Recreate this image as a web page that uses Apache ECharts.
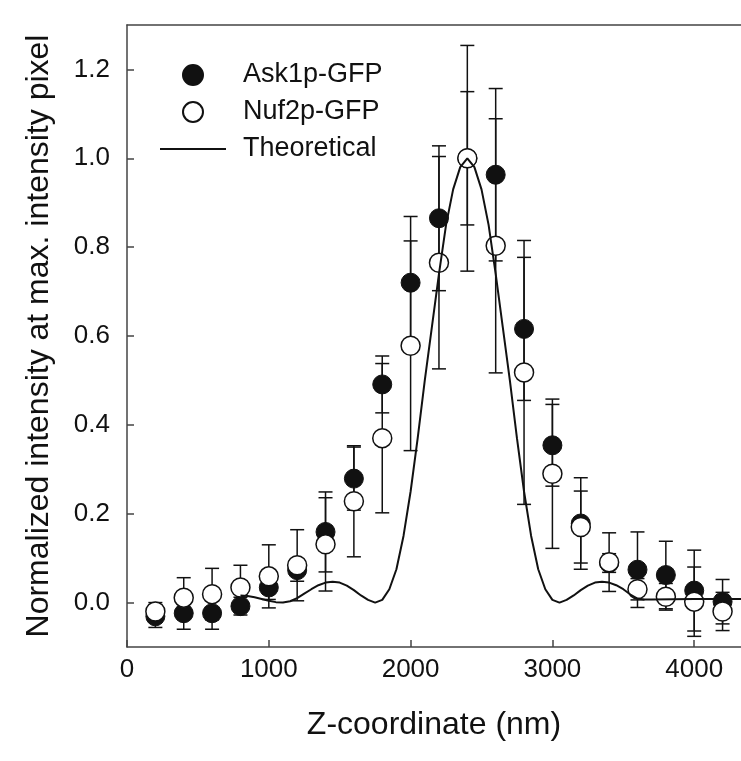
<!DOCTYPE html>
<html>
<head>
<meta charset="utf-8">
<script src="https://cdn.jsdelivr.net/npm/echarts@6/dist/echarts.min.js"></script>
<style>
  html, body { margin: 0; padding: 0; background: #fff; }
  #chart { width: 741px; height: 761px; }
</style>
</head>
<body>
<div id="chart"></div>
<script>
// z 坐标 (nm)
const zCoord = [200, 400, 600, 800, 1000, 1200, 1400, 1600, 1800, 2000, 2200, 2400, 2600, 2800, 3000, 3200, 3400, 3600, 3800, 4000, 4200]
// Ask1p-GFP 实心点
const ask1p = [-0.031, -0.024, -0.024, -0.008, 0.034, 0.073, 0.159, 0.279, 0.491, 0.72, 0.865, 1.0, 0.963, 0.616, 0.354, 0.178, 0.089, 0.074, 0.062, 0.027, 0.002]
const ask1pErr = [0.025, 0.036, 0.036, 0.02, 0.027, 0.025, 0.09, 0.071, 0.064, 0.149, 0.163, 0.15, 0.194, 0.161, 0.092, 0.103, 0.021, 0.085, 0.076, 0.091, 0.05]
// Nuf2p-GFP 空心点
const nuf2p = [-0.02, 0.011, 0.019, 0.034, 0.059, 0.084, 0.131, 0.228, 0.37, 0.578, 0.765, 1.0, 0.803, 0.518, 0.29, 0.17, 0.091, 0.03, 0.013, 0.002, -0.02]
const nuf2pErr = [0.02, 0.045, 0.058, 0.05, 0.071, 0.08, 0.105, 0.125, 0.168, 0.236, 0.239, 0.254, 0.286, 0.297, 0.168, 0.081, 0.066, 0.024, 0.03, 0.078, 0.043]
// 理论曲线
const theoryZ = [800, 850, 900, 950, 1000, 1050, 1100, 1150, 1200, 1250, 1300, 1350, 1400, 1450, 1500, 1550, 1600, 1650, 1700, 1750,
  1800, 1850, 1900, 1950, 2000, 2050, 2100, 2150, 2200, 2250, 2300, 2350, 2400, 2450, 2500, 2550, 2600, 2650, 2700, 2750,
  2800, 2850, 2900, 2950, 3000, 3050, 3100, 3150, 3200, 3250, 3300, 3350, 3400, 3450, 3500, 3550, 3600, 3650, 3700, 4000, 4330]
const theoryVal = [0.016, 0.015, 0.012, 0.008, 0.004, 0.001, 0.0, 0.003, 0.01, 0.02, 0.03, 0.039, 0.045, 0.047, 0.045, 0.038, 0.028, 0.016, 0.006, 0.0,
  0.006, 0.03, 0.075, 0.15, 0.25, 0.37, 0.5, 0.62, 0.74, 0.85, 0.93, 0.98, 1.0, 0.98, 0.93, 0.85, 0.74, 0.62, 0.5, 0.37,
  0.25, 0.15, 0.075, 0.03, 0.006, 0.0, 0.006, 0.016, 0.028, 0.038, 0.045, 0.047, 0.045, 0.039, 0.03, 0.018, 0.009, 0.007, 0.007, 0.008, 0.008]
// 刻度
const xTicks = [0, 1000, 2000, 3000, 4000]
const yTicks = [0, 0.2, 0.4, 0.6, 0.8, 1.0, 1.2]

const font = 'Liberation Sans, Arial, sans-serif'
const ink = '#111'
const axisColor = '#444'

const errData = (vals, errs) => zCoord.map((z, i) => [z, vals[i] - errs[i], vals[i] + errs[i]])

// 误差棒
const renderErr = (params, api) => {
  const x = api.value(0)
  const lo = api.coord([x, api.value(1)])
  const hi = api.coord([x, api.value(2)])
  const w = 7
  const style = { stroke: ink, lineWidth: 1.5 }
  return {
    type: 'group',
    children: [
      { type: 'line', shape: { x1: lo[0], y1: lo[1], x2: hi[0], y2: hi[1] }, style },
      { type: 'line', shape: { x1: lo[0] - w, y1: lo[1], x2: lo[0] + w, y2: lo[1] }, style },
      { type: 'line', shape: { x1: hi[0] - w, y1: hi[1], x2: hi[0] + w, y2: hi[1] }, style }
    ]
  }
}

const chart = echarts.init(document.getElementById('chart'))
const options = {
  animation: false,
  grid: { left: 127, right: 0, top: 25, bottom: 114 },
  legend: {
    data: [
      { name: 'Ask1p-GFP' },
      { name: 'Nuf2p-GFP' },
      { name: 'Theoretical', icon: 'path://M0,0L66,0L66,2L0,2Z' }
    ],
    orient: 'vertical',
    left: 155,
    top: 55,
    itemWidth: 66,
    itemHeight: 20,
    itemGap: 7,
    textStyle: { fontFamily: font, fontSize: 27, color: ink, lineHeight: 30, padding: [0, 0, 0, 12] }
  },
  xAxis: [
    {
      type: 'value',
      min: 0,
      max: 4330,
      name: 'Z-coordinate (nm)',
      nameLocation: 'middle',
      nameGap: 62,
      nameTextStyle: { fontFamily: font, fontSize: 32, color: ink },
      axisLine: { onZero: false, lineStyle: { color: axisColor, width: 1.5 } },
      axisTick: { inside: true, length: 7, customValues: xTicks, lineStyle: { color: axisColor, width: 1.5 } },
      axisLabel: { customValues: xTicks, fontFamily: font, fontSize: 26, color: ink, margin: 10, formatter: (v) => String(v) },
      splitLine: { show: false }
    },
    {
      // 顶部边框
      type: 'value',
      position: 'top',
      min: 0,
      max: 4330,
      axisLine: { show: true, onZero: false, lineStyle: { color: axisColor, width: 1.5 } },
      axisTick: { show: false },
      axisLabel: { show: false },
      splitLine: { show: false }
    }
  ],
  yAxis: {
    type: 'value',
    min: -0.1,
    max: 1.3,
    name: 'Normalized intensity at max. intensity pixel',
    nameLocation: 'middle',
    nameGap: 72,
    nameTextStyle: { fontFamily: font, fontSize: 32, color: ink },
    axisLine: { show: true, onZero: false, lineStyle: { color: axisColor, width: 1.5 } },
    axisTick: { show: true, inside: true, length: 7, customValues: yTicks, lineStyle: { color: axisColor, width: 1.5 } },
    axisLabel: {
      customValues: yTicks,
      fontFamily: font,
      fontSize: 26,
      color: ink,
      margin: 17,
      formatter: (v) => v.toFixed(1)
    },
    splitLine: { show: false }
  },
  series: [
    {
      type: 'custom',
      name: 'errAsk',
      renderItem: renderErr,
      encode: { x: 0, y: [1, 2] },
      data: errData(ask1p, ask1pErr),
      z: 1
    },
    {
      type: 'custom',
      name: 'errNuf',
      renderItem: renderErr,
      encode: { x: 0, y: [1, 2] },
      data: errData(nuf2p, nuf2pErr),
      z: 1
    },
    {
      type: 'scatter',
      name: 'Ask1p-GFP',
      symbol: 'circle',
      symbolSize: 19,
      itemStyle: { color: ink, borderColor: ink, borderWidth: 1, opacity: 1 },
      data: zCoord.map((z, i) => [z, ask1p[i]]),
      z: 2
    },
    {
      type: 'scatter',
      name: 'Nuf2p-GFP',
      symbol: 'circle',
      symbolSize: 19,
      itemStyle: { color: '#fff', borderColor: ink, borderWidth: 1.5, opacity: 1 },
      data: zCoord.map((z, i) => [z, nuf2p[i]]),
      z: 3
    },
    {
      type: 'line',
      name: 'Theoretical',
      symbol: 'none',
      lineStyle: { color: ink, width: 2 },
      itemStyle: { color: ink },
      data: theoryZ.map((z, i) => [z, theoryVal[i]]),
      z: 4
    }
  ]
}
chart.setOption(options)
</script>
</body>
</html>
